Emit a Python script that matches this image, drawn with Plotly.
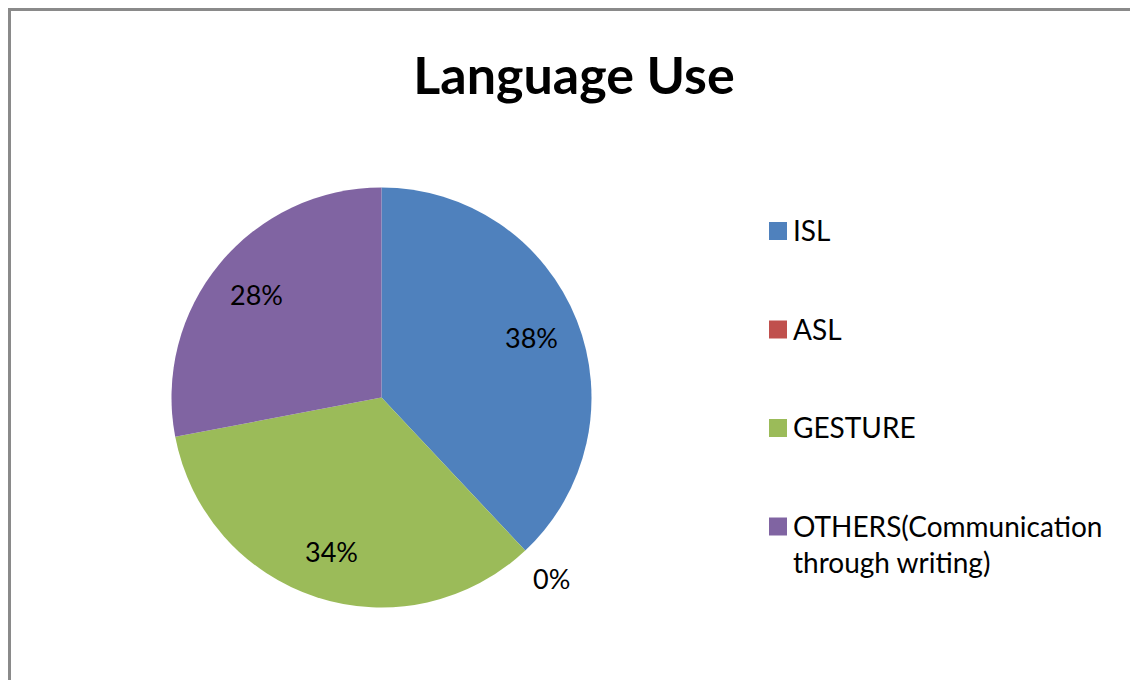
import math
import plotly.graph_objects as go

# Survey results: language used for communication
categories = ["ISL", "ASL", "GESTURE", "OTHERS(Communication<br>through writing)"]
values = [38, 0, 34, 28]
colors = ["#4F81BD", "#C0504D", "#9BBB59", "#8064A2"]
title_text = "Language Use"

W, H = 1130, 680
FONT = "Lato"

# Pie placement (pixels)
cx, cy, R = 381.5, 397.5, 210

fig = go.Figure(
    go.Pie(
        labels=categories,
        values=values,
        marker=dict(colors=colors, line=dict(width=0)),
        sort=False,
        direction="clockwise",
        rotation=0,
        textinfo="none",
        showlegend=False,
        domain=dict(
            x=[(cx - R) / W, (cx + R) / W],
            y=[(H - cy - R) / H, (H - cy + R) / H],
        ),
    )
)

# Percentage labels placed at each slice's mid-angle
total = sum(values)
annotations = []
cum = 0
for v in values:
    mid = 2 * math.pi * (cum + v / 2) / total
    cum += v
    rf = 0.77 if v > 0 else 1.18
    px = cx + rf * R * math.sin(mid)
    py = cy - rf * R * math.cos(mid)
    annotations.append(
        dict(
            x=px / W, y=(H - py) / H, xref="paper", yref="paper",
            text=f"{round(100 * v / total)}%", showarrow=False,
            font=dict(family=FONT, size=27, color="#000000"),
            xanchor="center", yanchor="middle",
        )
    )

# Legend: colour squares with labels, drawn on the right
shapes = []
leg_x, leg_y0, leg_step, sq = 769, 231, 98.5, 18
for i, (lab, col) in enumerate(zip(categories, colors)):
    yc = leg_y0 + i * leg_step
    shapes.append(
        dict(
            type="rect", xref="paper", yref="paper",
            x0=leg_x / W, x1=(leg_x + sq) / W,
            y0=(H - yc - sq / 2) / H, y1=(H - yc + sq / 2) / H,
            fillcolor=col, line=dict(width=0),
        )
    )
    annotations.append(
        dict(
            x=(leg_x + sq + 4) / W, y=(H - yc + 20) / H, xref="paper", yref="paper",
            text=lab, showarrow=False, align="left",
            font=dict(family=FONT, size=28, color="#000000"),
            xanchor="left", yanchor="top",
        )
    )

# Chart area frame
shapes.append(
    dict(
        type="rect", xref="paper", yref="paper",
        x0=9.5 / W, x1=1.05, y0=-0.05, y1=(H - 9.5) / H,
        line=dict(color="#8A8A8A", width=3), fillcolor="rgba(0,0,0,0)",
    )
)

fig.update_layout(
    width=W, height=H,
    margin=dict(l=0, r=0, t=0, b=0),
    paper_bgcolor="white", plot_bgcolor="white",
    title=dict(
        text=f"<b>{title_text}</b>", x=574 / W, xanchor="center",
        y=(H - 76) / H, yanchor="middle",
        font=dict(family=FONT, size=52, color="#000000"),
    ),
    annotations=annotations,
    shapes=shapes,
)

fig.write_html("out.html")
